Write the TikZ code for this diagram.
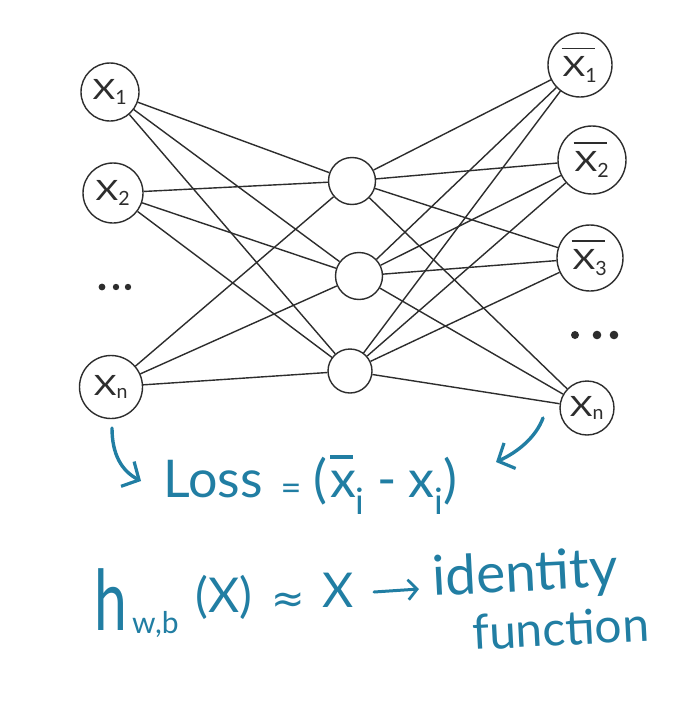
\documentclass[tikz,border=0pt]{standalone}
\usepackage{fontspec}
\usepackage{graphicx}
\setmainfont{Lato}
\newfontfamily\symfont{DejaVu Sans}
\usetikzlibrary{arrows.meta}
\definecolor{ink}{RGB}{45,45,45}
\definecolor{pen}{RGB}{33,126,163}
\newcommand\nlab[2]{\fontsize{28}{28}\selectfont\scalebox{1.25}[1]{#1}\textsubscript{#2}}
\newcommand\nbar[2]{\fontsize{28}{28}\selectfont\makebox[0pt][l]{\hspace{-1pt}\raisebox{1.0em}{\rule{1.2em}{0.05em}}}\scalebox{1.25}[1]{#1}\textsubscript{#2}}
\newcommand\xbarred{\makebox[0pt][l]{\raisebox{0.74em}{\rule{0.45em}{0.06em}}}x}
\begin{document}
\begin{tikzpicture}[x=1pt,y=-1pt,
  neuron/.style={circle,draw=ink,line width=1.4pt,inner sep=0pt,text=ink},
  link/.style={draw=ink,line width=1.4pt},
  pentext/.style={text=pen,inner sep=0pt},
  penarrow/.style={draw=pen,line width=3.4pt,line cap=round,line join=round,
    -{Straight Barb[length=13pt,width=28pt,line width=3.2pt]}},
  smallarrow/.style={draw=pen,line width=3pt,line cap=round,line join=round,
    -{Straight Barb[length=9pt,width=20pt,line width=2.8pt]}}]
\useasboundingbox (0,0) rectangle (700,720);
\fill[white] (0,0) rectangle (700,720);

% input layer
\node[neuron,minimum size=58pt] (x1) at (110,92) {\nlab{X}{1}};
\node[neuron,minimum size=60pt] (x2) at (113,193) {\nlab{X}{2}};
\node[neuron,minimum size=63pt] (xn) at (111,387) {\nlab{X}{n}};
% hidden layer
\node[neuron,minimum size=47pt] (h1) at (352,181) {};
\node[neuron,minimum size=47pt] (h2) at (359,276) {};
\node[neuron,minimum size=44pt] (h3) at (350,371) {};
% output layer
\node[neuron,minimum size=64pt] (o1) at (580,65) {\nbar{X}{1}};
\node[neuron,minimum size=68pt] (o2) at (592,160) {\nbar{X}{2}};
\node[neuron,minimum size=66pt] (o3) at (590,258) {\nbar{X}{3}};
\node[neuron,minimum size=54pt] (on) at (587,408) {\nlab{X}{n}};

\foreach \a in {x1,x2,xn}
  \foreach \b in {h1,h2,h3}
    \draw[link] (\a) -- (\b);
\foreach \a in {h1,h2,h3}
  \foreach \b in {o1,o2,o3,on}
    \draw[link] (\a) -- (\b);

% ellipses
\fill[ink] (102,287) circle (3.4) (116,287) circle (3.2) (128,287) circle (3.2);
\fill[ink] (575,335) circle (4) (597,335) circle (4.3) (614,335) circle (4.3);

% loss line
\node[pentext,anchor=base west,font=\fontsize{52}{52}\selectfont] (loss) at (163,497) {Loss};
\node[pentext,font=\fontsize{36}{36}\selectfont] (eq) at (291,492) {=};
\node[pentext,anchor=base west,font=\fontsize{52}{52}\selectfont] (rhs) at (313,497)
  {(\hspace{3pt}\xbarred\textsubscript{i}\hspace{12pt}-\hspace{12pt}x\textsubscript{i})};

\coordinate (la) at (112,428);
\coordinate (lb) at (141,481);
\draw[penarrow] (la) .. controls (112,455) and (122,471) .. (lb);
\coordinate (ra) at (543,418);
\coordinate (rb) at (496,462);
\draw[penarrow] (ra) .. controls (536,437) and (518,452) .. (rb);

% hypothesis line
\node[pentext,anchor=base west,font=\fontsize{84}{84}\selectfont] (h) at (94,630) {\scalebox{0.7}[1]{h}};
\node[pentext,anchor=base west,font=\fontsize{30}{30}\selectfont] (wb) at (132,633) {w,b};
\node[pentext,anchor=base west,font=\fontsize{48}{48}\selectfont] (px) at (195,612) {(X)};
\node[pentext,font=\symfont\fontsize{40}{40}\selectfont] (ap) at (288,603) {≈};
\node[pentext,anchor=base west,font=\fontsize{48}{48}\selectfont] (X) at (322,607) {X};
\coordinate (ar1) at (374,592);
\coordinate (ar2) at (419,589);
\draw[smallarrow] (ar1) -- (ar2);
\node[pentext,anchor=base west,rotate=3,font=\fontsize{55}{55}\selectfont] (id) at (433,596) {identity};
\node[pentext,anchor=base west,rotate=3,font=\fontsize{48}{48}\selectfont] (fn) at (473,650) {function};
\end{tikzpicture}
\end{document}
